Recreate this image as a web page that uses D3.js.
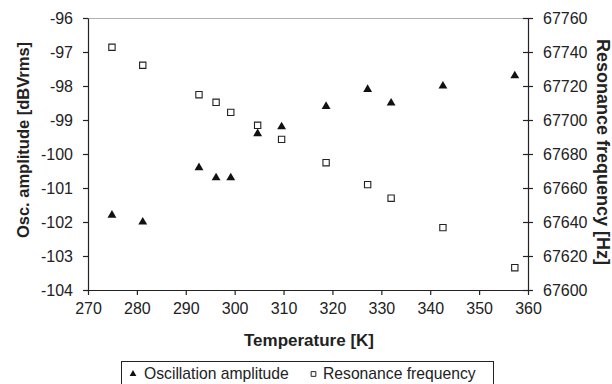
<!DOCTYPE html>
<html><head><meta charset="utf-8">
<script src="https://cdn.jsdelivr.net/npm/d3@7"></script>
<style>
body{margin:0;background:#fff;}
svg{display:block;font-family:"Liberation Sans",Arial,Helvetica,sans-serif;}
</style></head>
<body><svg id="c" width="612" height="384"></svg>
<script>
const temperature = [274.9, 281.2, 292.7, 296.2, 299.2, 304.7, 309.6, 318.7, 327.2, 332.0, 342.6, 357.3];
const amplitude   = [-101.8, -102.0, -100.4, -100.7, -100.7, -99.4, -99.2, -98.6, -98.1, -98.5, -98.0, -97.7];
const frequency   = [67742.8, 67732.2, 67714.9, 67710.4, 67704.5, 67696.9, 67688.6, 67674.9, 67662.0, 67654.0, 67636.7, 67613.1];
const xTicks = [270, 280, 290, 300, 310, 320, 330, 340, 350, 360];
const yLeftTicks = [-96, -97, -98, -99, -100, -101, -102, -103, -104];
const yRightTicks = [67760, 67740, 67720, 67700, 67680, 67660, 67640, 67620, 67600];
const seriesNames = ["Oscillation amplitude", "Resonance frequency"];
const xTitle = "Temperature [K]";
const yLeftTitle = "Osc. amplitude [dBVrms]";
const yRightTitle = "Resonance frequency [Hz]";

const svg = d3.select("#c");
const L = 88, R = 528, T = 18, B = 290;
const x = d3.scaleLinear().domain([270, 360]).range([L, R]);
const yL = d3.scaleLinear().domain([-104, -96]).range([B, T]);
const yR = d3.scaleLinear().domain([67600, 67760]).range([B, T]);
const fs = 16;

// top gray border
svg.append("line").attr("x1", L).attr("x2", R).attr("y1", T + 0.5).attr("y2", T + 0.5)
  .attr("stroke", "#b0b0b0").attr("stroke-width", 1.2);

// x axis
const gx = svg.append("g").attr("transform", `translate(0,${B})`)
  .call(d3.axisBottom(x).tickValues(xTicks).tickSize(5).tickSizeOuter(0).tickPadding(8).tickFormat(d3.format("d")));
// left axis
const gl = svg.append("g").attr("transform", `translate(${L},0)`)
  .call(d3.axisLeft(yL).tickValues(yLeftTicks).tickSize(5).tickSizeOuter(0).tickPadding(10).tickFormat(d => String(d)));
// right axis
const gr = svg.append("g").attr("transform", `translate(${R},0)`)
  .call(d3.axisRight(yR).tickValues(yRightTicks).tickSize(5).tickSizeOuter(0).tickPadding(10).tickFormat(d3.format("d")));
gr.selectAll(".tick line").attr("x1", -5);
[gx, gl, gr].forEach(g => {
  g.selectAll("path").attr("stroke", "#222").attr("stroke-width", 1.2);
  g.selectAll("line").attr("stroke", "#222").attr("stroke-width", 1.2);
  g.selectAll("text").attr("font-size", fs).attr("fill", "#222").attr("font-family", "Liberation Sans, Arial, sans-serif");
});

// points
const tri = d3.symbol().type(d3.symbolTriangle).size(34);
const sq = d3.symbol().type(d3.symbolSquare).size(40);
svg.append("g").selectAll("path").data(temperature).join("path")
  .attr("d", sq).attr("transform", (d, i) => `translate(${x(d)},${yR(frequency[i])})`)
  .attr("fill", "#fff").attr("stroke", "#222").attr("stroke-width", 1.1);
svg.append("g").selectAll("path").data(temperature).join("path")
  .attr("d", tri).attr("transform", (d, i) => `translate(${x(d)},${yL(amplitude[i])})`)
  .attr("fill", "#111");

// titles
svg.append("text").attr("x", 309).attr("y", 346).attr("text-anchor", "middle")
  .attr("font-weight", "bold").attr("font-size", 17).attr("fill", "#222").text(xTitle);
svg.append("text").attr("transform", "translate(29,140) rotate(-90)").attr("text-anchor", "middle")
  .attr("font-weight", "bold").attr("font-size", 16.5).attr("fill", "#222").text(yLeftTitle);
svg.append("text").attr("transform", "translate(597,152) rotate(90)").attr("text-anchor", "middle")
  .attr("font-weight", "bold").attr("font-size", 18).attr("fill", "#222").text(yRightTitle);

// legend
svg.append("rect").attr("x", 121.5).attr("y", 361.5).attr("width", 372).attr("height", 30)
  .attr("fill", "none").attr("stroke", "#222").attr("stroke-width", 1);
svg.append("path").attr("d", d3.symbol().type(d3.symbolTriangle).size(20))
  .attr("transform", "translate(133,374)").attr("fill", "#111");
svg.append("text").attr("x", 144).attr("y", 379).attr("font-size", 15.7).attr("fill", "#222").text(seriesNames[0]);
svg.append("path").attr("d", d3.symbol().type(d3.symbolSquare).size(22))
  .attr("transform", "translate(313.5,374)").attr("fill", "#fff").attr("stroke", "#222").attr("stroke-width", 1);
svg.append("text").attr("x", 323).attr("y", 379).attr("font-size", 15.7).attr("fill", "#222").text(seriesNames[1]);
</script></body></html>
